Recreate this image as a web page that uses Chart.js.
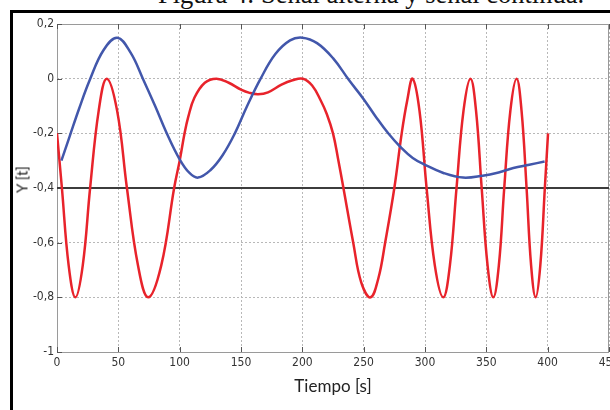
<!DOCTYPE html>
<html>
<head>
<meta charset="utf-8">
<script src="https://cdn.jsdelivr.net/npm/chart.js@4.4.1/dist/chart.umd.min.js"></script>
<style>
  html, body { margin: 0; padding: 0; background: #fff; overflow: hidden; }
  #page { position: relative; width: 610px; height: 410px; overflow: hidden; background: #fff; }
  #figTitle {
    position: absolute; left: 158px; top: -19px;
    font: 26.5px/26px "Liberation Serif", "Times New Roman", serif;
    color: #111; white-space: nowrap;
  }
  #frame {
    position: absolute; left: 10px; top: 10px; width: 700px; height: 500px;
    border-left: 3px solid #000; border-top: 3px solid #000;
  }
  #chartBox { position: absolute; left: 0; top: 0; width: 640px; height: 410px; }
  #yTitle {
    position: absolute; left: -8px; top: 172px; width: 60px; text-align: center;
    font: 15px/15px Lato, "Open Sans", sans-serif; color: #222;
    transform: rotate(-90deg); transform-origin: 50% 50%;
  }
</style>
</head>
<body>
<div id="page">
  <div id="figTitle">Figura 4: Señal alterna y señal continua.</div>
  <div id="frame"></div>
  <div id="chartBox"><canvas id="chartSignals"></canvas></div>
  <div id="yTitle">Y [t]</div>
</div>
<script>
// tick labels
const xTickLabels = ["0", "50", "100", "150", "200", "250", "300", "350", "400", "450"];
const yTickLabels = ["-1", "-0,8", "-0,6", "-0,4", "-0,2", "0", "0,2"];

// señal continua (blue)
const blueX = [3.6, 10.4, 18, 26.7, 38, 49.2, 60, 70, 80, 89, 100, 108, 115, 125, 135, 145, 155, 166,
  178, 190, 200, 212, 225, 238, 250, 260, 270, 280, 290, 300, 315, 331, 347, 360, 372, 385, 397.5];
const blueY = [-0.30, -0.21, -0.11, -0.005, 0.105, 0.15, 0.095, 0.0, -0.10, -0.195, -0.295, -0.345, -0.362,
  -0.335, -0.28, -0.20, -0.10, 0.0, 0.09, 0.14, 0.15, 0.13, 0.075, -0.005, -0.075, -0.14, -0.20, -0.25,
  -0.29, -0.315, -0.345, -0.362, -0.355, -0.343, -0.327, -0.315, -0.303];

// señal alterna (red)
const redX = [0, 4, 9.5, 15, 21, 27, 34, 40.5, 49, 57, 66, 74.3, 85, 95.5, 100, 104, 107, 112, 120.5,
  130, 140, 150, 157, 164, 172, 183, 192, 200.5, 208, 215, 220, 225, 229, 233.5, 241.5, 248, 255.6, 262,
  267.5, 275, 281, 285.5, 289.9, 295.5, 301.3, 308, 314.9, 320.3, 325.7, 331.4, 337.1, 341.6, 346.2, 351,
  355.7, 360.2, 364.6, 369.6, 374.7, 378.7, 382.8, 386.5, 390.2, 394, 397.7, 400.3];
const redY = [-0.2, -0.4, -0.683, -0.8, -0.683, -0.4, -0.117, 0, -0.117, -0.4, -0.683, -0.8, -0.683,
  -0.4, -0.30, -0.2, -0.14, -0.07, -0.015, 0, -0.015, -0.04, -0.052, -0.057, -0.05, -0.022, -0.006, 0,
  -0.025, -0.08, -0.13, -0.2, -0.29, -0.4, -0.6, -0.745, -0.8, -0.73, -0.6, -0.4, -0.2, -0.08, 0, -0.117,
  -0.4, -0.683, -0.8, -0.683, -0.4, -0.117, 0, -0.117, -0.4, -0.683, -0.8, -0.683, -0.4, -0.117, 0,
  -0.117, -0.4, -0.683, -0.8, -0.683, -0.4, -0.2];

// nivel constante
const levelX = [0, 450];
const levelY = [-0.4, -0.4];

const toPoints = (xs, ys) => xs.map((x, i) => ({ x: x, y: ys[i] }));

const tickFont = { family: "'Liberation Sans Narrow', 'DejaVu Sans Condensed', Arial, sans-serif", size: 12 };

// gray box round the plot with MATLAB style inward ticks
const plotBox = {
  id: "plotBox",
  beforeDatasetsDraw(chart) {
    const { ctx, chartArea: a, scales } = chart;
    ctx.save();
    ctx.strokeStyle = "#9a9a9a";
    ctx.lineWidth = 1;
    ctx.strokeRect(a.left + 0.5, a.top + 0.5, a.right - a.left - 1, a.bottom - a.top);
    ctx.strokeStyle = "#555";
    ctx.beginPath();
    scales.x.ticks.forEach((t) => {
      const px = Math.round(scales.x.getPixelForValue(t.value)) + 0.5;
      ctx.moveTo(px, a.bottom); ctx.lineTo(px, a.bottom - 5);
      ctx.moveTo(px, a.top); ctx.lineTo(px, a.top + 5);
    });
    scales.y.ticks.forEach((t) => {
      const py = Math.round(scales.y.getPixelForValue(t.value)) + 0.5;
      ctx.moveTo(a.left, py); ctx.lineTo(a.left + 5, py);
    });
    ctx.stroke();
    ctx.restore();
  },
};

new Chart(document.getElementById("chartSignals").getContext("2d"), {
  type: "line",
  data: {
    datasets: [
      {
        label: "nivel",
        data: toPoints(levelX, levelY),
        borderColor: "#3c3c3c",
        borderWidth: 2,
        pointRadius: 0,
        order: 3,
      },
      {
        label: "alterna",
        data: toPoints(redX, redY),
        borderColor: "#e8232b",
        borderWidth: 2.5,
        pointRadius: 0,
        tension: 0.4,
        order: 2,
      },
      {
        label: "continua",
        data: toPoints(blueX, blueY),
        borderColor: "#4257ab",
        borderWidth: 2.5,
        pointRadius: 0,
        tension: 0.4,
        order: 1,
      },
    ],
  },
  options: {
    responsive: true,
    maintainAspectRatio: false,
    animation: false,
    layout: { padding: { top: 24, right: 31, left: 0, bottom: 0 } },
    scales: {
      x: {
        type: "linear",
        min: 0,
        max: 450,
        afterFit: (s) => { s.height = 58; },
        ticks: {
          stepSize: 50,
          autoSkip: false,
          maxRotation: 0,
          padding: 4,
          color: "#333",
          font: tickFont,
          callback: (v, i) => xTickLabels[i],
        },
        grid: { color: "#b8b8b8", lineWidth: 1, drawTicks: false },
        border: { display: false, dash: [2, 2] },
        title: {
          display: true,
          text: "Tiempo [s]",
          color: "#222",
          font: { family: "Lato, 'Open Sans', sans-serif", size: 17 },
          padding: { top: 0, bottom: 13 },
        },
      },
      y: {
        min: -1,
        max: 0.2,
        afterFit: (s) => { s.width = 57; },
        ticks: {
          stepSize: 0.2,
          autoSkip: false,
          padding: 3,
          color: "#333",
          font: tickFont,
          callback: (v, i) => yTickLabels[i],
        },
        grid: { color: "#b8b8b8", lineWidth: 1, drawTicks: false },
        border: { display: false, dash: [2, 2] },
      },
    },
    plugins: {
      legend: { display: false },
      tooltip: { enabled: false },
    },
  },
  plugins: [plotBox],
});
</script>
</body>
</html>
